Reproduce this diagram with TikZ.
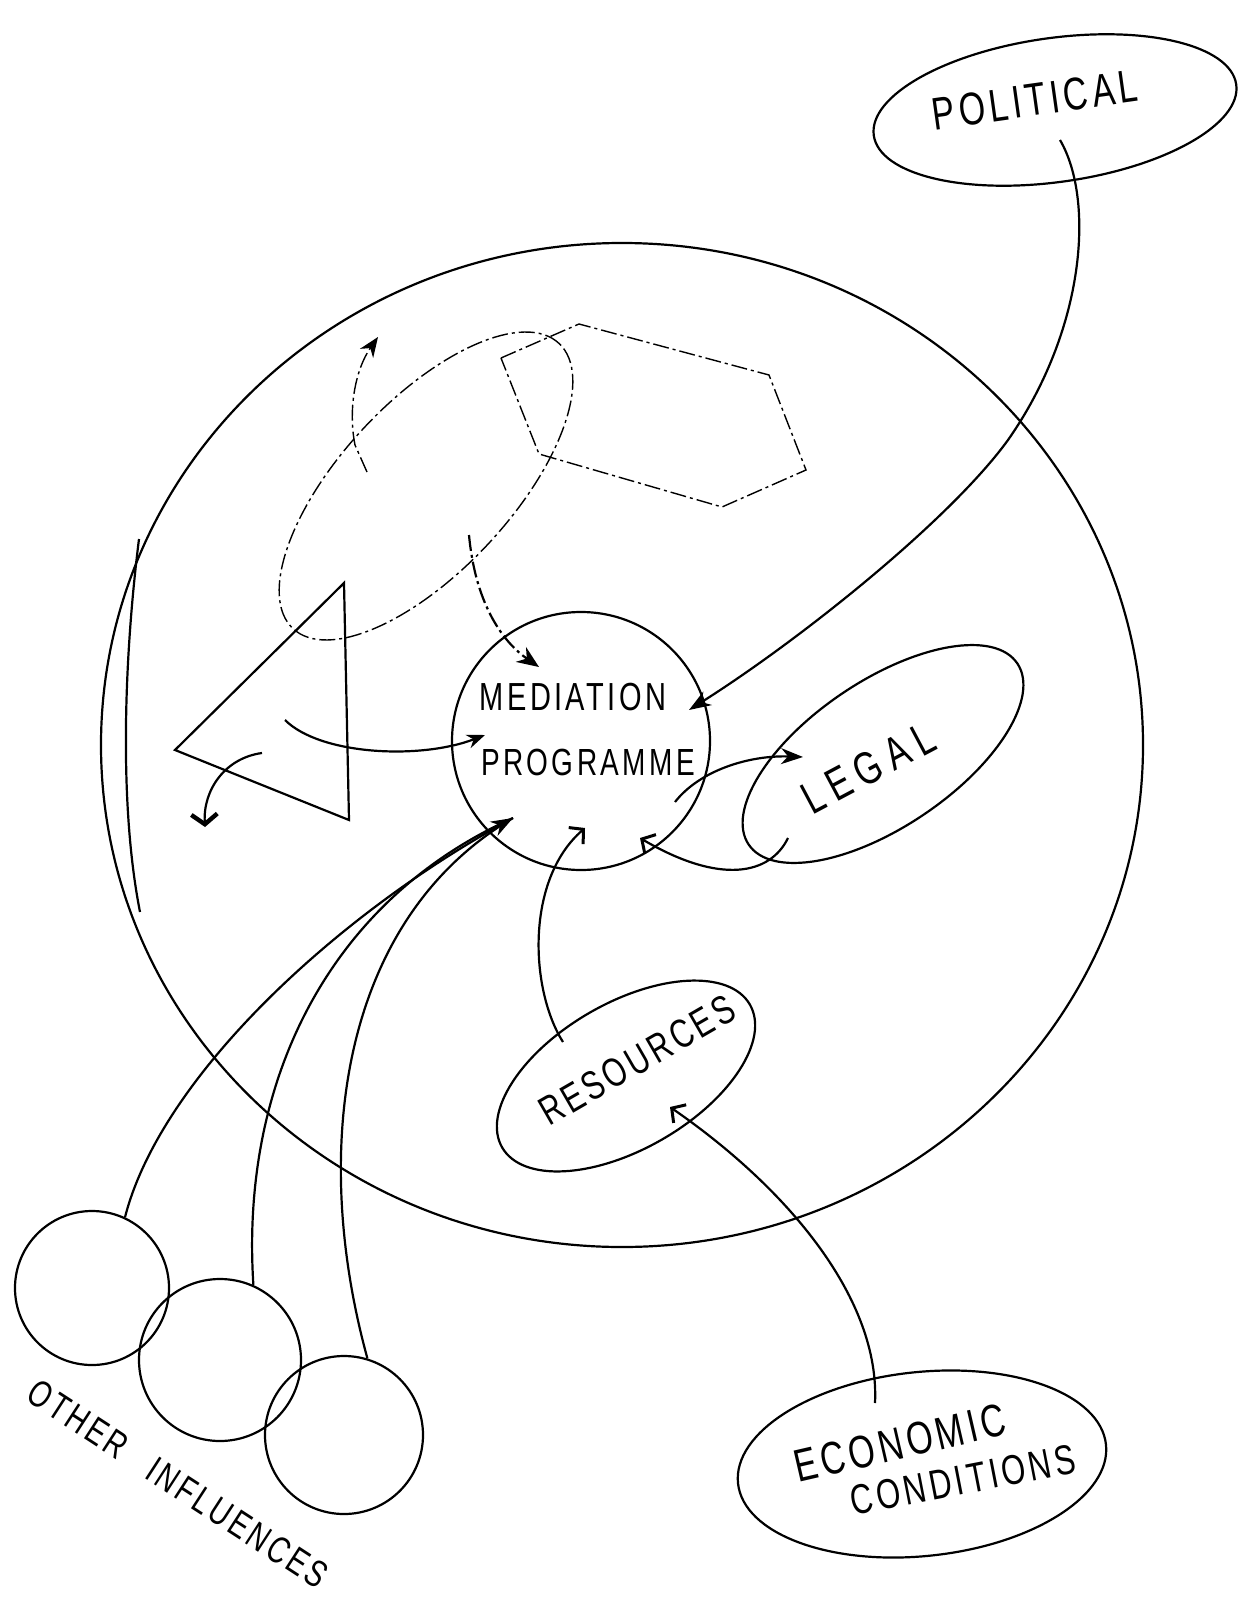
\documentclass[tikz,border=0pt]{standalone}
\usepackage{fontspec}
\setmainfont{Liberation Sans}
\newfontfamily\handfont[LetterSpace=12]{Liberation Sans}
\usetikzlibrary{arrows.meta, shapes.geometric}
\tikzset{
  blob/.style={draw, ellipse, inner sep=0pt},
  ring/.style={draw, circle, inner sep=0pt},
  dashdot/.style={line width=0.7pt, dash pattern=on 8pt off 2pt on 1.5pt off 2pt},
  hand/.style={font=\handfont\fontsize{#1}{#1}\selectfont, inner sep=0pt, yscale=1.35},
  shut/.style={-{Stealth[length=11pt,width=8pt]}},
  barb/.style={-{Straight Barb[length=5pt,width=11pt,line width=1.5pt]}}
}

\begin{document}
\begin{tikzpicture}[x=0.5pt, y=-0.5pt, line width=1.1pt]
    \fill[white] (0,0) rectangle (1247,1605);
    \useasboundingbox (0,0) rectangle (1247,1605);

    % the wider setting
    \node[blob, minimum width=521pt, minimum height=502pt] (system) at (622,745) {};
    \draw (139,539) .. controls (125,650) and (118,800) .. (140,912);

    % the programme and the pressures on it
    \node[ring, minimum size=129pt] (mediation) at (581,741) {};
    \node[hand=14.5] (medtext) at (573,697) {MEDIATION};
    \node[hand=14] (progtext) at (588,762) {PROGRAMME};

    \node[blob, rotate=8, minimum width=183pt, minimum height=72pt] (politics) at (1055,110) {};
    \node[rotate=8, hand=17] (poltext) at (1035,100) {POLITICAL};

    \node[blob, rotate=34, minimum width=162pt, minimum height=73pt] (legal) at (883,754) {};
    \node[rotate=28, hand=17] (legaltext) at (868,768) {\addfontfeatures{LetterSpace=25}LEGAL};

    \node[blob, rotate=30, minimum width=143pt, minimum height=73pt] (resources) at (626,1076) {};
    \node[rotate=30, hand=15] (restext) at (637,1060) {RESOURCES};

    \node[blob, rotate=6, minimum width=185pt, minimum height=92pt] (economy) at (922,1464) {};
    \node[rotate=13, hand=17] (econtext) at (900,1443) {ECONOMIC};
    \node[rotate=11, hand=15.5] (condtext) at (963,1480) {CONDITIONS};

    \node[ring, minimum size=77pt] (other1) at (92,1288) {};
    \node[ring, minimum size=81pt] (other2) at (220,1360) {};
    \node[ring, minimum size=79pt] (other3) at (344,1435) {};
    \node[rotate=-33, hand=14] (othertext) at (178,1484) {OTHER\hspace{0.7em} INFLUENCES};

    % shapes inside the setting
    \node[blob, dashdot, rotate=47, minimum width=195pt, minimum height=85pt] (cluster) at (426,486) {};
    \draw[dashdot] (501,358) -- (579,324) -- (769,375) -- (806,470) -- (722,507) -- (539,454) -- cycle;
    \draw (344,583) -- (175,750) -- (349,820) -- cycle;

    % arrow ends
    \coordinate (polstart) at (1060,140);
    \coordinate (polend) at (689,710);
    \coordinate (clustertick) at (367,472);
    \coordinate (upend) at (378,337);
    \coordinate (clusterlow) at (469,535);
    \coordinate (medtop) at (539,667);
    \coordinate (tristart) at (285,720);
    \coordinate (medleft) at (485,735);
    \coordinate (trilow) at (262,753);
    \coordinate (downend) at (205,827);
    \coordinate (medright) at (675,802);
    \coordinate (legalin) at (803,757);
    \coordinate (legalout) at (788,838);
    \coordinate (medlow) at (640,838);
    \coordinate (resout) at (563,1042);
    \coordinate (medbottom) at (585,828);
    \coordinate (econout) at (875,1403);
    \coordinate (resin) at (670,1107);
    \coordinate (medsw) at (513,818);

    % connectors
    \draw[shut] (polstart) .. controls (1095,200) and (1085,330) .. (1008,440)
        .. controls (950,520) and (800,640) .. (polend);
    \draw[dashdot, -{Stealth[length=10pt,width=8pt]}] (clustertick) -- (355,445)
        .. controls (348,410) and (355,370) .. (upend);
    \draw[dashdot, line width=1.1pt, -{Stealth[length=11pt,width=9pt]}] (clusterlow)
        .. controls (475,600) and (500,640) .. (medtop);
    \draw[-{Stealth[length=9pt,width=7pt]}] (tristart) .. controls (320,755) and (420,760) .. (medleft);
    \draw[-{Straight Barb[length=5pt,width=13pt,line width=2.2pt]}] (trilow)
        .. controls (225,758) and (203,790) .. (downend);
    \draw[shut] (medright) .. controls (700,770) and (750,755) .. (legalin);
    \draw[barb] (legalout) .. controls (770,875) and (720,885) .. (medlow);
    \draw[barb] (resout) .. controls (530,990) and (525,880) .. (medbottom);
    \draw[barb] (econout) .. controls (880,1300) and (790,1190) .. (resin);
    \draw[shut] (other1.65) .. controls (160,1080) and (330,920) .. (medsw);
    \draw (other2.66) .. controls (240,1080) and (330,900) .. (medsw);
    \draw (other3.73) .. controls (310,1150) and (340,920) .. (medsw);
\end{tikzpicture}
\end{document}
